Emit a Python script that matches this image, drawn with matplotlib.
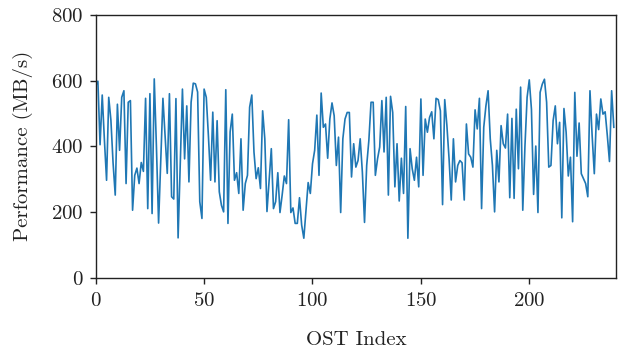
import matplotlib
matplotlib.use("Agg")
import matplotlib.pyplot as plt
import numpy as np

# Performance per OST (MB/s), index 0..239
perf_0_38 = [585, 598, 405, 556, 420, 297, 549, 480, 350, 252,
             528, 388, 549, 569, 287, 534, 539, 206, 312, 334,
             287, 351, 324, 546, 211, 560, 196, 605, 400, 167,
             360, 546, 430, 318, 560, 247, 240, 545, 122]
perf_39_77 = [350, 574, 362, 523, 292, 534, 592, 590, 565, 232,
              181, 574, 549, 430, 297, 504, 292, 478, 262, 221,
              201, 572, 166, 444, 498, 297, 320, 257, 423, 206,
              287, 312, 519, 556, 383, 302, 335, 272, 508]
perf_78_117 = [423, 202, 300, 393, 211, 232, 320, 199, 252, 310,
               287, 481, 199, 213, 166, 166, 244, 161, 121, 206,
               290, 257, 347, 388, 495, 312, 562, 458, 468, 364,
               483, 532, 493, 342, 428, 199, 423, 483, 503, 503]
perf_118_156 = [307, 408, 337, 357, 423, 322, 169, 342, 418, 534,
                534, 312, 362, 398, 539, 383, 549, 252, 552, 503,
                277, 408, 234, 364, 257, 521, 121, 393, 332, 297,
                367, 277, 544, 312, 483, 443, 488, 505, 423]
perf_157_196 = [546, 542, 508, 223, 542, 463, 362, 237, 423, 292,
                342, 357, 350, 237, 468, 377, 367, 337, 511, 453,
                546, 211, 458, 523, 569, 423, 342, 201, 388, 292,
                463, 408, 395, 498, 244, 485, 242, 513, 332, 580]
perf_197_239 = [206, 400, 549, 602, 513, 254, 401, 199, 564, 589,
                604, 534, 337, 342, 478, 523, 408, 473, 183, 515,
                443, 310, 367, 171, 564, 370, 471, 317, 302, 287,
                247, 569, 433, 317, 498, 451, 544, 498, 505, 433,
                354, 569, 458]

performance = (perf_0_38 + perf_39_77 + perf_78_117 + perf_118_156
               + perf_157_196 + perf_197_239)
ost_index = np.arange(len(performance))

xticks = [0, 50, 100, 150, 200]
yticks = [0, 200, 400, 600, 800]

plt.rcParams['font.family'] = ['cmr10', 'DejaVu Serif']
plt.rcParams['mathtext.fontset'] = 'cm'
plt.rcParams['axes.formatter.use_mathtext'] = True

fig = plt.figure(figsize=(6.31, 3.56), dpi=100)
ax = fig.add_axes([0.1517, 0.219, 0.9762 - 0.1517, 0.9587 - 0.219])
ax.plot(ost_index, performance, color='#1f77b4', linewidth=1.2)
ax.set_xlim(0, 240)
ax.set_ylim(0, 800)
ax.set_xticks(xticks)
ax.set_yticks(yticks)
ax.tick_params(labelsize=15, length=4, width=1, colors='#222222', labelcolor='#222222')
ax.tick_params(axis='x', pad=6)
ax.tick_params(axis='y', pad=5)
for s in ax.spines.values():
    s.set_color('#222222')
    s.set_linewidth(1.0)
ax.set_xlabel('OST Index', fontsize=15, labelpad=15, color='#222222')
ax.set_ylabel('Performance (MB/s)', fontsize=15, labelpad=13, color='#222222')
fig.savefig('out.png', dpi=100)
